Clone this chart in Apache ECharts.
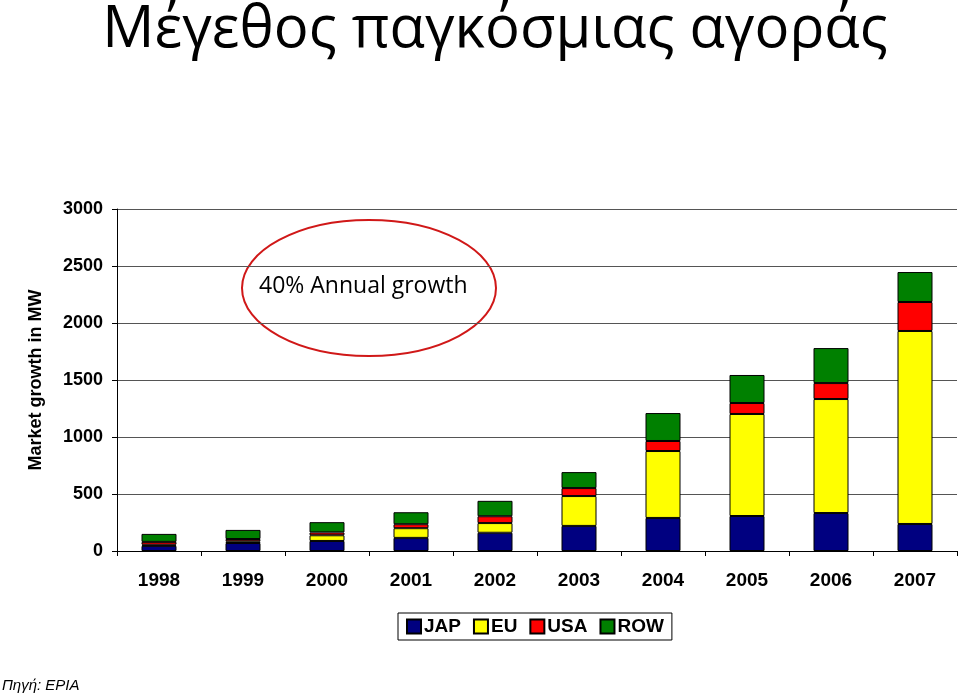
<!DOCTYPE html>
<html><head><meta charset="utf-8">
<script src="https://cdn.jsdelivr.net/npm/echarts@6/dist/echarts.min.js"></script>
<style>html,body{margin:0;background:#fff}#c{width:960px;height:697px}</style>
</head><body><div id="c"></div>
<script>
// τιμές σε MW, διαβασμένες από την εικόνα
const years = ['1998','1999','2000','2001','2002','2003','2004','2005','2006','2007'];
const jap = [45, 70, 88, 115, 160, 220, 290, 307, 333, 237];
const eu  = [10, 15, 50, 85, 85, 262, 587, 895, 1000, 1693];
const usa = [25, 20, 25, 35, 60, 70, 88, 96, 140, 254];
const row = [70, 80, 90, 105, 135, 140, 245, 246, 307, 263];

const chart = echarts.init(document.getElementById('c'));
const bar = (name, data, color) => ({
  name, type: 'bar', stack: 'all', data, barWidth: 35,
  itemStyle: { color, borderColor: '#000', borderWidth: 1 }
});

chart.setOption({
  animation: false,
  title: {
    text: 'Μέγεθος παγκόσμιας αγοράς', left: 490, textAlign: 'center', top: -4,
    textStyle: { fontFamily: 'Open Sans', fontWeight: 'normal', fontSize: 58, color: '#000' }
  },
  grid: { left: 117, right: 3, top: 209, bottom: 146 },
  legend: {
    bottom: 57, left: 398, itemGap: 12, itemWidth: 14, itemHeight: 14,
    borderColor: '#000', borderWidth: 1, padding: [4, 8], borderRadius: 0,
    textStyle: { fontFamily: 'Liberation Sans', fontWeight: 'bold', fontSize: 19, color: '#000', padding: [0, 0, 0, -2] },
    icon: 'rect',
    data: ['JAP', 'EU', 'USA', 'ROW']
  },
  xAxis: {
    type: 'category', data: years,
    axisLine: { lineStyle: { color: '#000' } },
    axisTick: { show: true, lineStyle: { color: '#000' } },
    axisLabel: { fontFamily: 'Liberation Sans', fontWeight: 'bold', fontSize: 19, color: '#000', margin: 20 }
  },
  yAxis: {
    type: 'value', min: 0, max: 3000, interval: 500,
    name: 'Market growth in MW', nameLocation: 'middle', nameGap: 72,
    nameTextStyle: { fontFamily: 'Liberation Sans', fontWeight: 'bold', fontSize: 18, color: '#000' },
    axisLine: { show: true, lineStyle: { color: '#000' } },
    axisTick: { show: true, lineStyle: { color: '#000' } },
    splitLine: { lineStyle: { color: '#555' } },
    axisLabel: { fontFamily: 'Liberation Sans', fontWeight: 'bold', fontSize: 18, color: '#000', margin: 14,
      formatter: v => String(v) }
  },
  series: [
    bar('JAP', jap, '#000080'),
    bar('EU', eu, '#ffff00'),
    bar('USA', usa, '#ff0000'),
    bar('ROW', row, '#008000')
  ],
  graphic: [
    { type: 'ellipse', shape: { cx: 369, cy: 288, rx: 127, ry: 68 },
      style: { fill: 'rgba(255,255,255,0.9)', stroke: '#d01818', lineWidth: 2 } },
    { type: 'text', left: 259, top: 275,
      style: { text: '40% Annual growth', fontFamily: 'Open Sans', fontSize: 23, fill: '#000' } },
    { type: 'text', left: 2, top: 678,
      style: { text: 'Πηγή: EPIA', fontFamily: 'Liberation Sans', fontStyle: 'italic', fontSize: 15, fill: '#000' } }
  ]
});
</script></body></html>
